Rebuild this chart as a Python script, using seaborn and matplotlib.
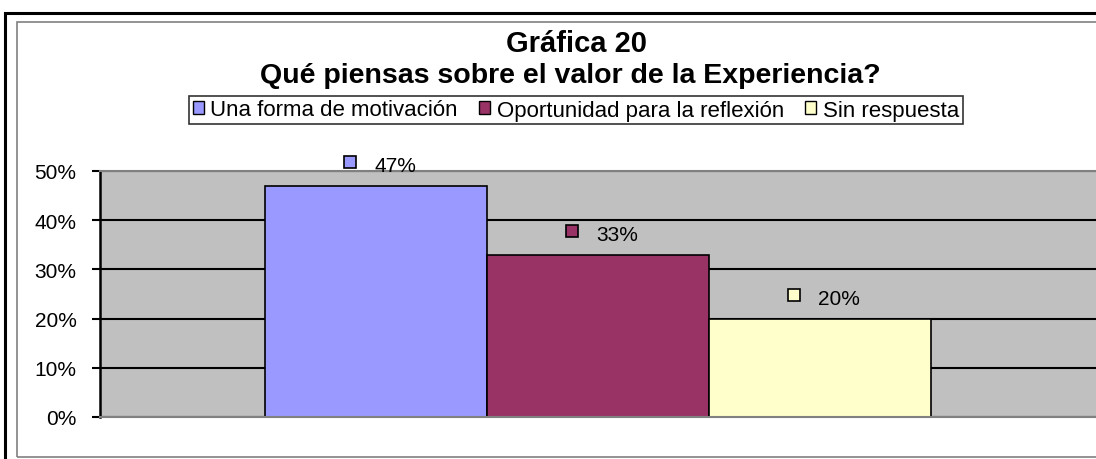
"""Gráfica 20 - valor de la experiencia"""

import matplotlib
matplotlib.use("Agg")
import matplotlib.pyplot as plt
from matplotlib.patches import Rectangle
from matplotlib.transforms import offset_copy
import seaborn as sns
import pandas as pd

categorias = ["Una forma de motivación", "Oportunidad para la reflexión", "Sin respuesta"]
valores = [47, 33, 20]
colores = ["#9999FF", "#993366", "#FFFFCC"]
ticks_y = [0, 10, 20, 30, 40, 50]

sns.set_theme(style="white")
plt.rcParams["font.family"] = ["Liberation Sans", "DejaVu Sans"]
plt.rcParams["text.color"] = "black"
plt.rcParams["ytick.color"] = "black"
plt.rcParams["ytick.labelcolor"] = "black"

df = pd.DataFrame({"categoria": categorias, "valor": valores})

fig = plt.figure(figsize=(10.96, 4.6), dpi=100)
W, H = 1096, 460

# marcos exteriores
fig.patches.append(Rectangle((5 / W, -0.1), 1.2, (460 - 14) / H + 0.1, transform=fig.transFigure,
                             fill=False, edgecolor="black", linewidth=2.2))
fig.patches.append(Rectangle((17 / W, 2 / H), 1.2, (460 - 23 - 2) / H, transform=fig.transFigure,
                             fill=False, edgecolor="#808080", linewidth=1.2))

ax = fig.add_axes([100 / W, (460 - 418) / H, 1000 / W, 246 / H])
ax.set_facecolor("#C0C0C0")

sns.barplot(data=df, x="categoria", y="valor", hue="categoria", palette=colores,
            saturation=1, width=1, edgecolor="black", linewidth=1.2, ax=ax,
            legend=True, zorder=2)

ax.set_xlim(-1.243, 3.26)
ax.set_ylim(0, 50)
ax.set_yticks(ticks_y)
ax.set_yticklabels([f"{t}%" for t in ticks_y], fontsize=15)
ax.set_xticks([])
ax.set_xlabel("")
ax.set_ylabel("")
ax.set_axisbelow(True)
ax.yaxis.grid(True, color="black", linewidth=1.5)
ax.tick_params(axis="y", direction="out", length=6, width=1.5, color="black", pad=11, left=True)

ax.spines["left"].set_color("black")
ax.spines["left"].set_linewidth(1.8)
ax.spines["bottom"].set_color("#808080")
ax.spines["bottom"].set_linewidth(1.5)
ax.spines["top"].set_color("#808080")
ax.spines["top"].set_linewidth(1.5)
ax.spines["right"].set_visible(False)

# etiquetas de datos con clave de leyenda
for i, (v, c) in enumerate(zip(valores, colores)):
    tr_m = offset_copy(ax.transData, fig=fig, x=-26 * 0.72, y=24 * 0.72, units="points")
    ax.plot(i, v, marker="s", markersize=9, markerfacecolor=c, markeredgecolor="black",
            markeredgewidth=1.2, transform=tr_m, clip_on=False, zorder=5)
    ax.annotate(f"{v}%", xy=(i, v), xytext=(19 * 0.72, 20 * 0.72), textcoords="offset points",
                ha="center", va="center", fontsize=15, zorder=5, annotation_clip=False)

# leyenda
handles, labels = ax.get_legend_handles_labels()
leg = ax.legend(handles, labels, ncol=3, loc="center",
                bbox_to_anchor=(576 / W, (460 - 111) / H), bbox_transform=fig.transFigure,
                fontsize=16, frameon=True, fancybox=False, edgecolor="black",
                handlelength=0.5, handleheight=0.5, handletextpad=0.3, columnspacing=0.95,
                borderpad=0.15, borderaxespad=0)
leg.get_frame().set_linewidth(1.2)
for h in leg.legend_handles:
    h.set_edgecolor("black")
    h.set_linewidth(1.0)

fig.text(576 / W, (460 - 44) / H, "Gráfica 20",
         ha="center", va="center", fontsize=21, fontweight="bold")
fig.text(570 / W, (460 - 76) / H, "Qué piensas sobre el valor de la Experiencia?",
         ha="center", va="center", fontsize=20.5, fontweight="bold")

fig.savefig("out.png", dpi=100)
